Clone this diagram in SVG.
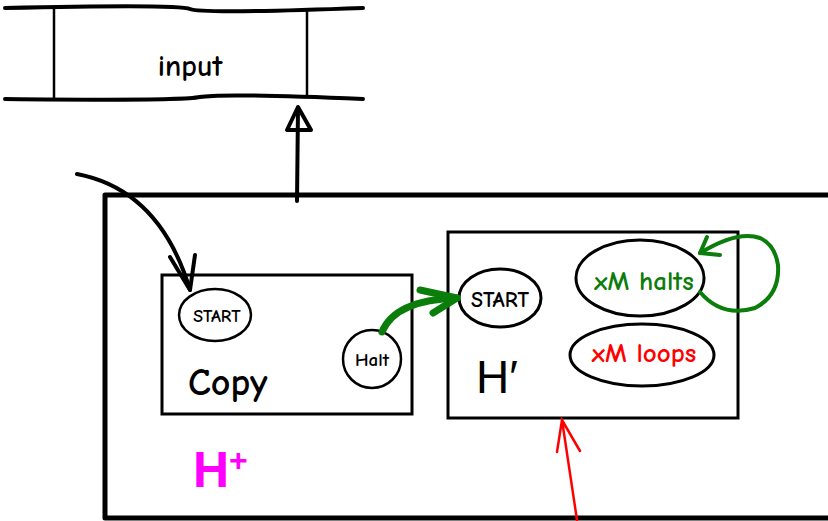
<svg xmlns="http://www.w3.org/2000/svg" width="828" height="521" viewBox="0 0 828 521">
<style>
.t{font-family:"Comic Neue","Liberation Sans",sans-serif;font-weight:bold}
.k{fill:none;stroke:#000;stroke-linecap:round;stroke-linejoin:round}
.g{fill:none;stroke:#0a7d0a;stroke-linecap:round;stroke-linejoin:round}
</style>
<rect width="828" height="521" fill="#fff"/>
<g id="tape">
<path class="k" stroke-width="4" d="M5 8 Q180 4 190 9 T363 8"/>
<path class="k" stroke-width="4" d="M5 99 Q180 101 200 97 T363 99"/>
<path class="k" stroke-width="2.5" d="M54 9 L54 98 M307 10 L307 96"/>
<text class="t" x="190" y="76" font-size="30" text-anchor="middle">input</text>
</g>
<g id="machine">
<path class="k" stroke-width="5" d="M828 195 L105 195 L105 518 L828 518"/>
<text x="193" y="487" font-family="Liberation Sans,sans-serif" font-weight="bold" font-size="50" fill="#ff00ff">H<tspan font-size="32" dy="-16">+</tspan></text>
</g>
<g id="copy">
<rect x="162" y="275" width="250" height="139" fill="none" stroke="#000" stroke-width="3"/>
<text class="t" x="188" y="395" font-size="38">Copy</text>
</g>
<g id="start1">
<ellipse cx="215" cy="315" rx="36" ry="26" fill="#fff" stroke="#000" stroke-width="2.5"/>
<text class="t" x="217" y="322" font-size="18" text-anchor="middle">START</text>
</g>
<g id="halt">
<circle cx="372" cy="359" r="29" fill="#fff" stroke="#000" stroke-width="2.5"/>
<text class="t" x="372" y="366" font-size="19" text-anchor="middle">Halt</text>
</g>
<g id="hprime">
<rect x="448" y="232" width="290" height="186" fill="none" stroke="#000" stroke-width="3"/>
<text x="476" y="393" font-family="Liberation Sans,sans-serif" font-size="46">H′</text>
</g>
<g id="start2">
<ellipse cx="500" cy="298" rx="41" ry="29" fill="#fff" stroke="#000" stroke-width="3"/>
<text class="t" x="500" y="307" font-size="22" text-anchor="middle">START</text>
</g>
<g id="halts">
<ellipse cx="640" cy="278" rx="64" ry="38" fill="#fff" stroke="#000" stroke-width="3"/>
<text class="t" x="644" y="290" font-size="27" text-anchor="middle" fill="#0a7d0a">xM halts</text>
</g>
<g id="loops">
<ellipse cx="642" cy="355" rx="72" ry="31" fill="#fff" stroke="#000" stroke-width="3"/>
<text class="t" x="644" y="362" font-size="27" text-anchor="middle" fill="#ff0000">xM loops</text>
</g>
<g id="connectors">
<path class="k" stroke-width="4" d="M297 201 L298 108"/>
<path class="k" stroke-width="4" d="M298 107 L287 130 L311 130 Z"/>
<path class="k" stroke-width="4" d="M77 174 Q160 190 190 290"/>
<path class="k" stroke-width="4" d="M170 257 L190 290 L195 255"/>
<path class="g" stroke-width="7" d="M382 332 Q395 300 457 298"/>
<path class="g" stroke-width="7" d="M420 290 L457 298 L433 313"/>
<path class="g" stroke-width="4" d="M700 292 Q722 318 755 308 Q780 295 778 265 Q775 245 760 238 Q738 230 700 253"/>
<path class="g" stroke-width="4" d="M707 237 L700 253 L720 255"/>
<path fill="none" stroke="#ff0000" stroke-width="2.5" stroke-linecap="round" d="M577 520 L562 420 M557 452 L562 420 L580 451"/>
</g>
</svg>
